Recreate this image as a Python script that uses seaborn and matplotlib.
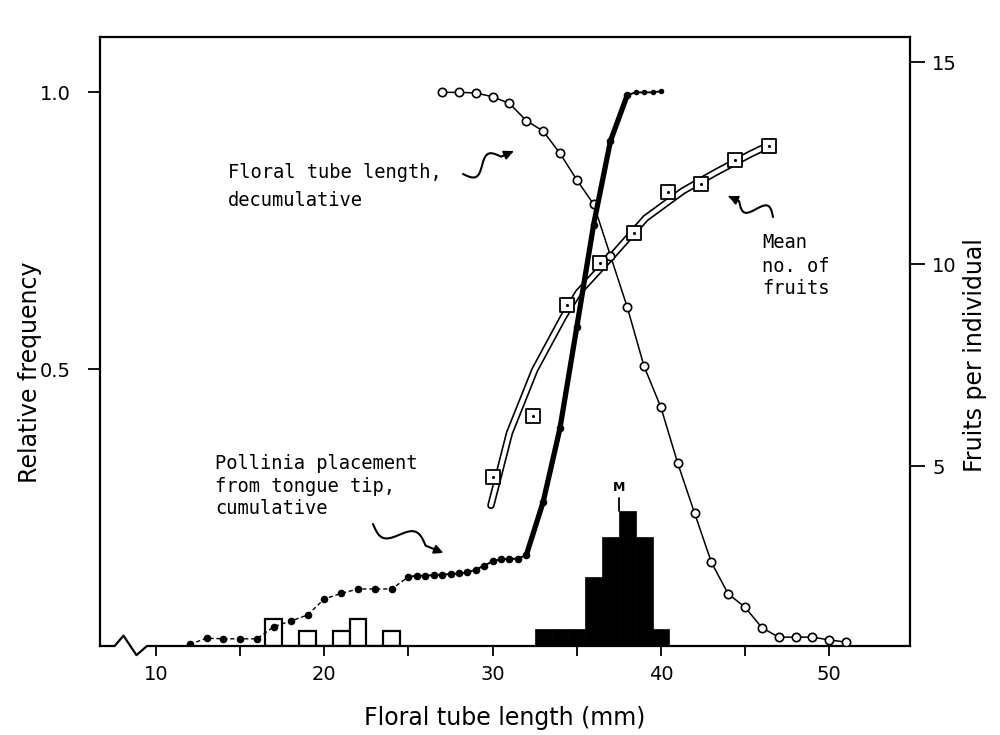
import numpy as np
import matplotlib
matplotlib.use("Agg")
import matplotlib.pyplot as plt
import seaborn as sns
from matplotlib.lines import Line2D
from matplotlib.patches import FancyArrowPatch

# ---------------- data ----------------
# Floral tube length, relative frequency per 1-mm class (black histogram)
tube_mm = [33, 34, 35, 36, 37, 38, 39, 40]
tube_freq = [0.031, 0.031, 0.031, 0.125, 0.197, 0.244, 0.197, 0.031]

# Pollinia placement from tongue tip, relative frequency (open histogram)
poll_mm = [17, 19, 21, 22, 24]
poll_freq = [0.049, 0.027, 0.027, 0.049, 0.027]

# Floral tube length, decumulative (open circles)
dec_mm = list(range(27, 52))
dec_freq = [1.0, 1.0, 0.999, 0.992, 0.98, 0.949, 0.93, 0.89, 0.842, 0.798,
            0.705, 0.612, 0.505, 0.431, 0.33, 0.24, 0.151, 0.094, 0.07, 0.033,
            0.016, 0.016, 0.016, 0.011, 0.007]

# Pollinia placement from tongue tip, cumulative (filled dots)
cum_mm = [12, 13, 14, 15, 16, 17, 18, 19, 20, 21, 22, 23, 24, 25,
          25.5, 26, 26.5, 27, 27.5, 28, 28.5, 29, 29.5, 30, 30.5, 31, 31.5, 32,
          33, 34, 35, 36, 37, 38, 38.5, 39, 39.5, 40]
cum_freq = [0.003, 0.014, 0.013, 0.013, 0.013, 0.035, 0.045, 0.056, 0.085, 0.095,
            0.103, 0.103, 0.103, 0.125,
            0.127, 0.127, 0.128, 0.129, 0.130, 0.131, 0.133, 0.138, 0.145, 0.153,
            0.157, 0.157, 0.158, 0.164,
            0.26, 0.393, 0.576, 0.761, 0.912, 0.995, 1.0, 1.0, 1.0, 1.002]

# Mean number of fruits per individual (squares, right axis)
fruit_mm = [30.0, 32.4, 34.4, 36.4, 38.4, 40.4, 42.4, 44.4, 46.4]
fruit_n = [4.74, 6.24, 8.99, 10.03, 10.77, 11.78, 11.98, 12.57, 12.92]

# Fitted curve through mean no. of fruits (double line)
fit_mm = [29.9, 31.0, 32.5, 34.2, 35.1, 37.2, 39.1, 41.3, 43.3, 45.3, 46.3]
fit_n = [4.03, 5.82, 7.38, 8.69, 9.30, 10.25, 11.14, 11.81, 12.28, 12.72, 12.92]

median_mm = 37.5
x_ticks = [10, 20, 30, 40, 50]
x_minor = [15, 25, 35, 45]
left_ticks = [0.5, 1.0]
right_ticks = [5, 10, 15]

# ---------------- style ----------------
sns.set_style("ticks")
plt.rcParams["font.family"] = ["DejaVu Sans"]
plt.rcParams["axes.linewidth"] = 1.6
for k in ["text.color", "axes.labelcolor", "xtick.color", "ytick.color",
          "axes.edgecolor", "xtick.labelcolor", "ytick.labelcolor"]:
    plt.rcParams[k] = "black"

W, H = 1000, 735
fig = plt.figure(figsize=(W / 100, H / 100), dpi=100)
fig.patch.set_facecolor("white")

ax = fig.add_axes([0.10, 1 - 646 / H, 0.81, (646 - 37) / H])
ax2 = ax.twinx()
ax.set_zorder(ax2.get_zorder() + 1)
ax.patch.set_visible(False)

ax.set_xlim(6.67, 54.8)
ax.set_ylim(0, 1.10)
ax2.set_ylim(0.55, 15.62)

# ---------------- histograms ----------------
sns.histplot(x=poll_mm, weights=poll_freq, discrete=True, ax=ax,
             color="white", edgecolor="black", linewidth=1.6, alpha=1, zorder=2)
sns.histplot(x=tube_mm, weights=tube_freq, discrete=True, ax=ax,
             color="black", edgecolor="black", linewidth=0.5, alpha=1, zorder=2)

# median marker
top_med = max(tube_freq)
ax.plot([median_mm, median_mm], [top_med, top_med + 0.024], color="black", lw=1.3, zorder=3)
ax.text(median_mm, top_med + 0.03, "M", ha="center", va="bottom", fontsize=9,
        fontweight="bold", family="DejaVu Sans")

# ---------------- fitted fruit curve (double line) & squares ----------------
sns.lineplot(x=fit_mm, y=fit_n, ax=ax2, color="black", linewidth=5.4, sort=False)
sns.lineplot(x=fit_mm, y=fit_n, ax=ax2, color="white", linewidth=3.0, sort=False)
sns.scatterplot(x=fruit_mm, y=fruit_n, ax=ax2, marker="s", s=95,
                facecolor="white", edgecolor="black", linewidth=1.3, zorder=5)
sns.scatterplot(x=fruit_mm, y=fruit_n, ax=ax2, marker="o", s=5,
                color="black", edgecolor="black", linewidth=0, zorder=6)

# ---------------- decumulative (open circles) ----------------
sns.lineplot(x=dec_mm, y=dec_freq, ax=ax, color="black", linewidth=1.1,
             marker="o", markersize=6.0, markerfacecolor="white",
             markeredgecolor="black", markeredgewidth=1.2, zorder=4)

# ---------------- cumulative (filled dots) ----------------
cx = np.array(cum_mm)
cy = np.array(cum_freq)
a = cx <= 25
b = (cx >= 25) & (cx <= 32)
c = (cx >= 32) & (cx <= 38)
d = cx >= 38
sns.lineplot(x=cx[a], y=cy[a], ax=ax, color="black", linewidth=1.0,
             linestyle=(0, (3, 2)), zorder=4)
sns.lineplot(x=cx[b], y=cy[b], ax=ax, color="black", linewidth=1.4, zorder=4)
sns.lineplot(x=cx[c], y=cy[c], ax=ax, color="black", linewidth=3.8, zorder=4)
sns.lineplot(x=cx[d], y=cy[d], ax=ax, color="black", linewidth=1.4, zorder=4)
sns.scatterplot(x=cx[cx <= 38], y=cy[cx <= 38], ax=ax, color="black", s=30,
                edgecolor="black", linewidth=0, zorder=5)
sns.scatterplot(x=cx[cx > 38], y=cy[cx > 38], ax=ax, color="black", s=16,
                edgecolor="black", linewidth=0, zorder=5)

# ---------------- axes, ticks, labels ----------------
ax.set_xticks(x_ticks)
ax.set_xticklabels([str(v) for v in x_ticks])
ax.set_xticks(x_minor, minor=True)
ax.tick_params(axis="x", which="both", direction="out", length=7, width=1.3,
               labelsize=14, pad=7)
ax.set_yticks(left_ticks)
ax.set_yticklabels([f"{v:.1f}" for v in left_ticks])
ax.tick_params(axis="y", direction="out", length=9, width=1.3, labelsize=14, pad=12)
ax2.set_yticks(right_ticks)
ax2.set_yticklabels([str(v) for v in right_ticks])
ax2.tick_params(axis="y", direction="out", length=11, width=1.3, labelsize=14, pad=5)

for s in ax2.spines.values():
    s.set_visible(False)
for s in ax.spines.values():
    s.set_visible(True)
    s.set_linewidth(1.6)
    s.set_color("black")

ax.set_xlabel("Floral tube length (mm)", fontsize=17)
ax.xaxis.set_label_coords(0.5, -0.098)
ax.set_ylabel("Relative frequency", fontsize=17)
ax.yaxis.set_label_coords(-0.071, 0.45)
ax2.set_ylabel("Fruits per individual", fontsize=17)
ax2.yaxis.set_label_coords(1.066, 0.478)

# axis break on the x axis
ax.plot([0.018, 0.062], [0, 0], transform=ax.transAxes, color="white",
        lw=4, clip_on=False, zorder=10, solid_capstyle="butt")
ax.plot([0.018, 0.029, 0.045, 0.058, 0.062],
        [0, 0.017, -0.015, 0.0, 0.0], transform=ax.transAxes, color="black",
        lw=1.6, clip_on=False, zorder=11)

# ---------------- annotations ----------------
def fig_xy(px, py):
    return px / W, 1 - py / H


def squiggle(p0, p1, amp=8.0):
    p0 = np.array(p0, float)
    p1 = np.array(p1, float)
    dvec = p1 - p0
    L = np.hypot(*dvec)
    u = dvec / L
    n = np.array([-u[1], u[0]])
    t = np.linspace(0, 1, 80)
    off = np.where(t < 0.72, amp * np.sin(2 * np.pi * t / 0.72), 0.0)
    pts = p0[None, :] + t[:, None] * dvec[None, :] + off[:, None] * n[None, :]
    fx = pts[:, 0] / W
    fy = 1 - pts[:, 1] / H
    fig.add_artist(Line2D(fx[:-6], fy[:-6], color="black", lw=1.5,
                          transform=fig.transFigure))
    arr = FancyArrowPatch((fx[-14], fy[-14]), (fx[-1], fy[-1]),
                          transform=fig.transFigure, arrowstyle="-|>",
                          mutation_scale=13, color="black", lw=1.5)
    fig.add_artist(arr)


mono = ["DejaVu Sans Mono"]
for txt, py in [("Floral tube length,", 173), ("decumulative", 200)]:
    fig.text(*fig_xy(228, py), txt, fontsize=13.5, family=mono, va="center", ha="left")
for txt, py in [("Mean", 243), ("no. of", 266), ("fruits", 289)]:
    fig.text(*fig_xy(762, py), txt, fontsize=13.5, family=mono, va="center", ha="left")
for txt, py in [("Pollinia placement", 464), ("from tongue tip,", 487), ("cumulative", 509)]:
    fig.text(*fig_xy(215, py), txt, fontsize=13.5, family=mono, va="center", ha="left")

squiggle((463, 174), (516, 150), amp=8)
squiggle((773, 217), (726, 195), amp=8)
squiggle((373, 524), (446, 554), amp=9)

fig.savefig("out.png", dpi=100, facecolor="white")
